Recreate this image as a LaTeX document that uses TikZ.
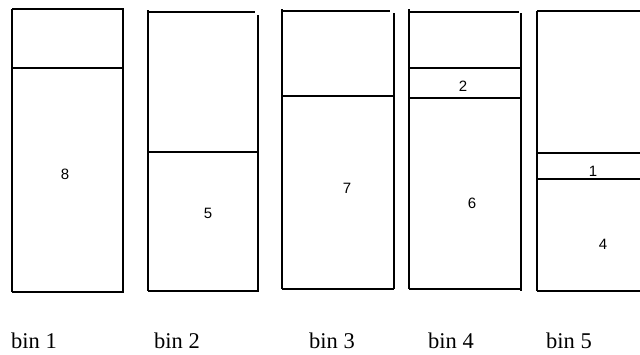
\documentclass[tikz,border=0pt]{standalone}
\usepackage{fontspec}
\setmainfont{Liberation Serif}
\newfontfamily\numfont{Liberation Sans}
\begin{document}
\begin{tikzpicture}[x=1pt,y=-1pt,
  binline/.style={line width=1.3pt,black},
  itemlabel/.style={font=\numfont\fontsize{15}{15}\selectfont,inner sep=0pt},
  binlabel/.style={font=\fontsize{22.5}{22.5}\selectfont,inner sep=0pt,anchor=base}]
\useasboundingbox (0,0) rectangle (640,354);
% bin 1
\draw[binline] (12,9) -- (123,9) (12,68) -- (123,68) (12,292) -- (123,292)
  (12,9) -- (12,292) (123,8) -- (123,293);
% bin 2
\draw[binline] (147,12) -- (255,12) (148,152) -- (259,152) (148,291) -- (259,291)
  (148,10) -- (148,291) (258,15) -- (258,291);
% bin 3
\draw[binline] (281,11) -- (390,11) (282,96) -- (394,96) (282,289) -- (394,289)
  (282,9) -- (282,289) (394,13) -- (394,289);
% bin 4
\draw[binline] (409,12) -- (519,12) (409,68) -- (521,68) (409,98) -- (521,98)
  (409,289) -- (521,289) (409,9) -- (409,289) (521,13) -- (521,291);
% bin 5
\draw[binline] (537,11) -- (640,11) (537,153) -- (640,153) (537,179) -- (640,179)
  (537,291) -- (640,291) (537,11) -- (537,291);
% item labels
\node[itemlabel] (i8) at (65,174) {8};
\node[itemlabel] (i5) at (208,213) {5};
\node[itemlabel] (i7) at (347,188) {7};
\node[itemlabel] (i2) at (463,86) {2};
\node[itemlabel] (i6) at (472,203) {6};
\node[itemlabel] (i1) at (593,171) {1};
\node[itemlabel] (i4) at (603,244) {4};
% bin labels
\node[binlabel] (b1) at (34,348) {bin 1};
\node[binlabel] (b2) at (177,348) {bin 2};
\node[binlabel] (b3) at (332,348) {bin 3};
\node[binlabel] (b4) at (451,348) {bin 4};
\node[binlabel] (b5) at (569,348) {bin 5};
\end{tikzpicture}
\end{document}
